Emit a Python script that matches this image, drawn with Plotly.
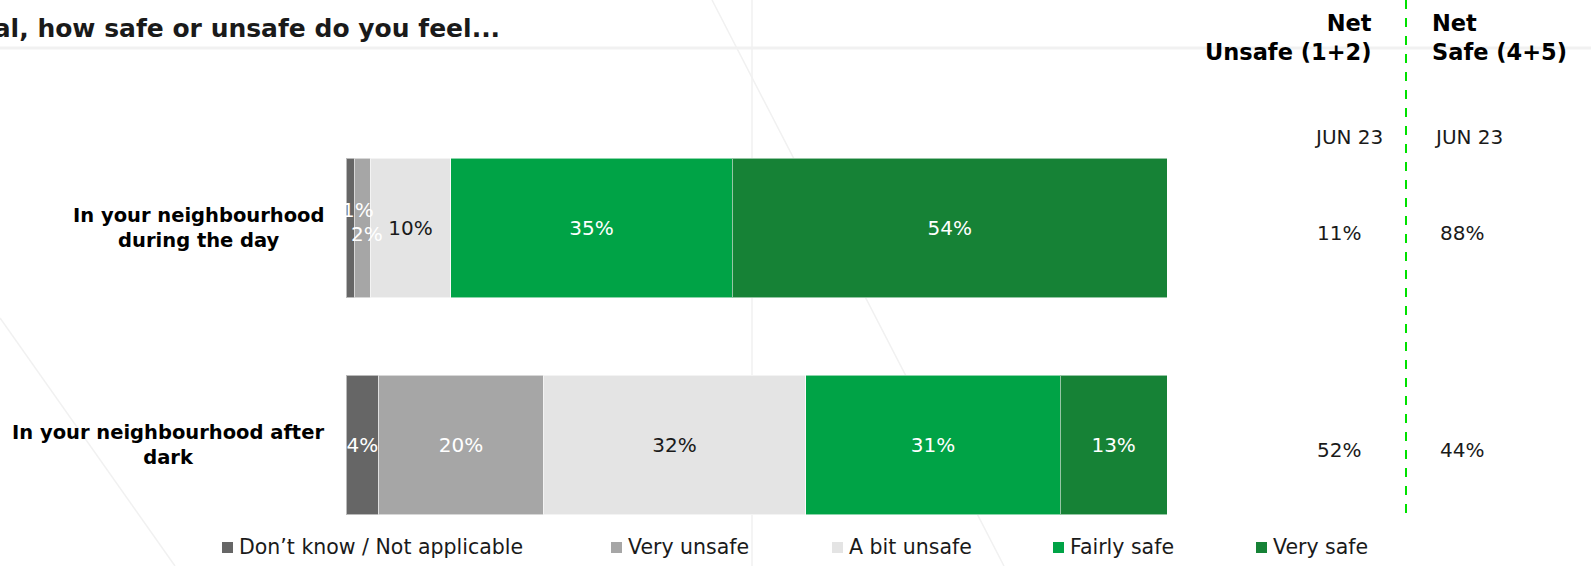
import plotly.graph_objects as go

# Survey data
categories = ["In your neighbourhood<br>during the day", "In your neighbourhood after<br>dark"]
series_names = ["Don’t know / Not applicable", "Very unsafe", "A bit unsafe", "Fairly safe", "Very safe"]
dont_know = [1, 4]
very_unsafe = [2, 20]
bit_unsafe = [10, 32]
fairly_safe = [35, 31]
very_safe = [54, 13]
net_unsafe = [11, 52]
net_safe = [88, 44]
wave_label = "JUN 23"

series_values = [dont_know, very_unsafe, bit_unsafe, fairly_safe, very_safe]
colors = ["#666666", "#a6a6a6", "#e4e4e4", "#00a346", "#168236"]
text_colors = ["white", "white", "#1a1a1a", "white", "white"]

FONT = "DejaVu Sans"
W, H = 1591, 566
VAL_SIZE = 20

# plot area in pixels
x0_px, x1_px = 346, 1167
y_top_px, y_bot_px = 119.5, 553.5


def px_x(p):
    return p / W


def px_y(p):
    return 1 - p / H


fig = go.Figure()
ypos = list(range(len(categories)))

for i, (name, vals) in enumerate(zip(series_names, series_values)):
    # the tiny day-time unsafe segments get their labels placed separately
    txt = [f"{v}%" if not (j == 0 and i < 2) else "" for j, v in enumerate(vals)]
    fig.add_trace(go.Bar(
        y=ypos, x=vals, orientation="h", name=name,
        marker=dict(color=colors[i], line=dict(color="rgba(255,255,255,0.55)", width=1)),
        text=txt, textposition="inside", insidetextanchor="middle", textangle=0,
        textfont=dict(family=FONT, size=VAL_SIZE, color=text_colors[i]),
        width=0.645, showlegend=False, hoverinfo="skip",
    ))

# labels for the two narrow segments of the first bar
total0 = sum(v[0] for v in series_values)
cum = 0
offsets = [(8, -18), (5, 6)]
for i in range(2):
    v = series_values[i][0]
    centre = (cum + v / 2) / total0 * 100
    cum += v
    fig.add_annotation(x=centre, y=0, xref="x", yref="y", text=f"{v}%", showarrow=False,
                       xshift=offsets[i][0], yshift=-offsets[i][1],
                       font=dict(family=FONT, size=VAL_SIZE, color="white"))

fig.update_layout(
    barmode="stack", barnorm="percent",
    width=W, height=H,
    margin=dict(l=0, r=0, t=0, b=0),
    paper_bgcolor="white", plot_bgcolor="rgba(0,0,0,0)",
    xaxis=dict(domain=[px_x(x0_px), px_x(x1_px)], range=[0, 100], visible=False, fixedrange=True),
    yaxis=dict(domain=[px_y(y_bot_px), px_y(y_top_px)], range=[1.5, -0.5], visible=False, fixedrange=True),
    showlegend=False,
    uniformtext=dict(mode="show", minsize=VAL_SIZE),
    font=dict(family=FONT, color="#1a1a1a"),
)

# decorative background lines
deco = [
    dict(x0=0, y0=48, x1=W, y1=48, w=3),
    dict(x0=752, y0=0, x1=752, y1=H, w=1.5),
    dict(x0=712, y0=0, x1=1004, y1=H, w=1.5),
    dict(x0=0, y0=318, x1=175, y1=H, w=1.5),
]
for d in deco:
    fig.add_shape(type="line", xref="paper", yref="paper", layer="below",
                  x0=px_x(d["x0"]), x1=px_x(d["x1"]), y0=px_y(d["y0"]), y1=px_y(d["y1"]),
                  line=dict(color="#f1f1f1", width=d["w"]))

# title (runs off the left edge of the slide)
fig.add_annotation(xref="paper", yref="paper", x=px_x(502), y=px_y(28), xanchor="right", yanchor="middle",
                   text="<b>In general, how safe or unsafe do you feel...</b>", showarrow=False,
                   font=dict(family=FONT, size=25, color="#1a1a1a"))

# category labels
for j, cat in enumerate(categories):
    fig.add_annotation(xref="paper", yref="y", x=px_x(326), y=j, xanchor="right", yanchor="middle",
                       text=f"<b>{cat}</b>", showarrow=False, align="center",
                       font=dict(family=FONT, size=19.5, color="black"))

# net columns
sep_x = 1406
fig.add_shape(type="line", xref="paper", yref="paper",
              x0=px_x(sep_x), x1=px_x(sep_x), y0=px_y(0), y1=px_y(516),
              line=dict(color="#00e000", width=2, dash="dash"))

fig.add_annotation(xref="paper", yref="paper", x=px_x(1374), y=px_y(37), xanchor="right", yanchor="middle",
                   text="<b>Net<br>Unsafe (1+2)</b>", showarrow=False, align="right",
                   font=dict(family=FONT, size=22.5, color="black"))
fig.add_annotation(xref="paper", yref="paper", x=px_x(1430), y=px_y(37), xanchor="left", yanchor="middle",
                   text="<b>Net<br>Safe (4+5)</b>", showarrow=False, align="left",
                   font=dict(family=FONT, size=22.5, color="black"))

for cx in (1348, 1468):
    fig.add_annotation(xref="paper", yref="paper", x=px_x(cx), y=px_y(137), xanchor="center", yanchor="middle",
                       text=wave_label, showarrow=False, font=dict(family=FONT, size=VAL_SIZE, color="#1a1a1a"))

for j in range(len(categories)):
    fig.add_annotation(xref="paper", yref="y", x=px_x(1339), y=j, yshift=-5, xanchor="center", yanchor="middle",
                       text=f"{net_unsafe[j]}%", showarrow=False, font=dict(family=FONT, size=VAL_SIZE, color="#1a1a1a"))
    fig.add_annotation(xref="paper", yref="y", x=px_x(1462), y=j, yshift=-5, xanchor="center", yanchor="middle",
                       text=f"{net_safe[j]}%", showarrow=False, font=dict(family=FONT, size=VAL_SIZE, color="#1a1a1a"))

# legend row
legend_x = [222, 611, 832, 1053, 1256]
for i, name in enumerate(series_names):
    fig.add_shape(type="rect", xref="paper", yref="paper",
                  x0=px_x(legend_x[i]), x1=px_x(legend_x[i] + 11),
                  y0=px_y(553), y1=px_y(542), fillcolor=colors[i], line=dict(width=0))
    fig.add_annotation(xref="paper", yref="paper", x=px_x(legend_x[i] + 15), y=px_y(547),
                       xanchor="left", yanchor="middle", text=name, showarrow=False,
                       font=dict(family=FONT, size=20.5, color="#1a1a1a"))

fig.write_html("out.html", config={"displayModeBar": False})
